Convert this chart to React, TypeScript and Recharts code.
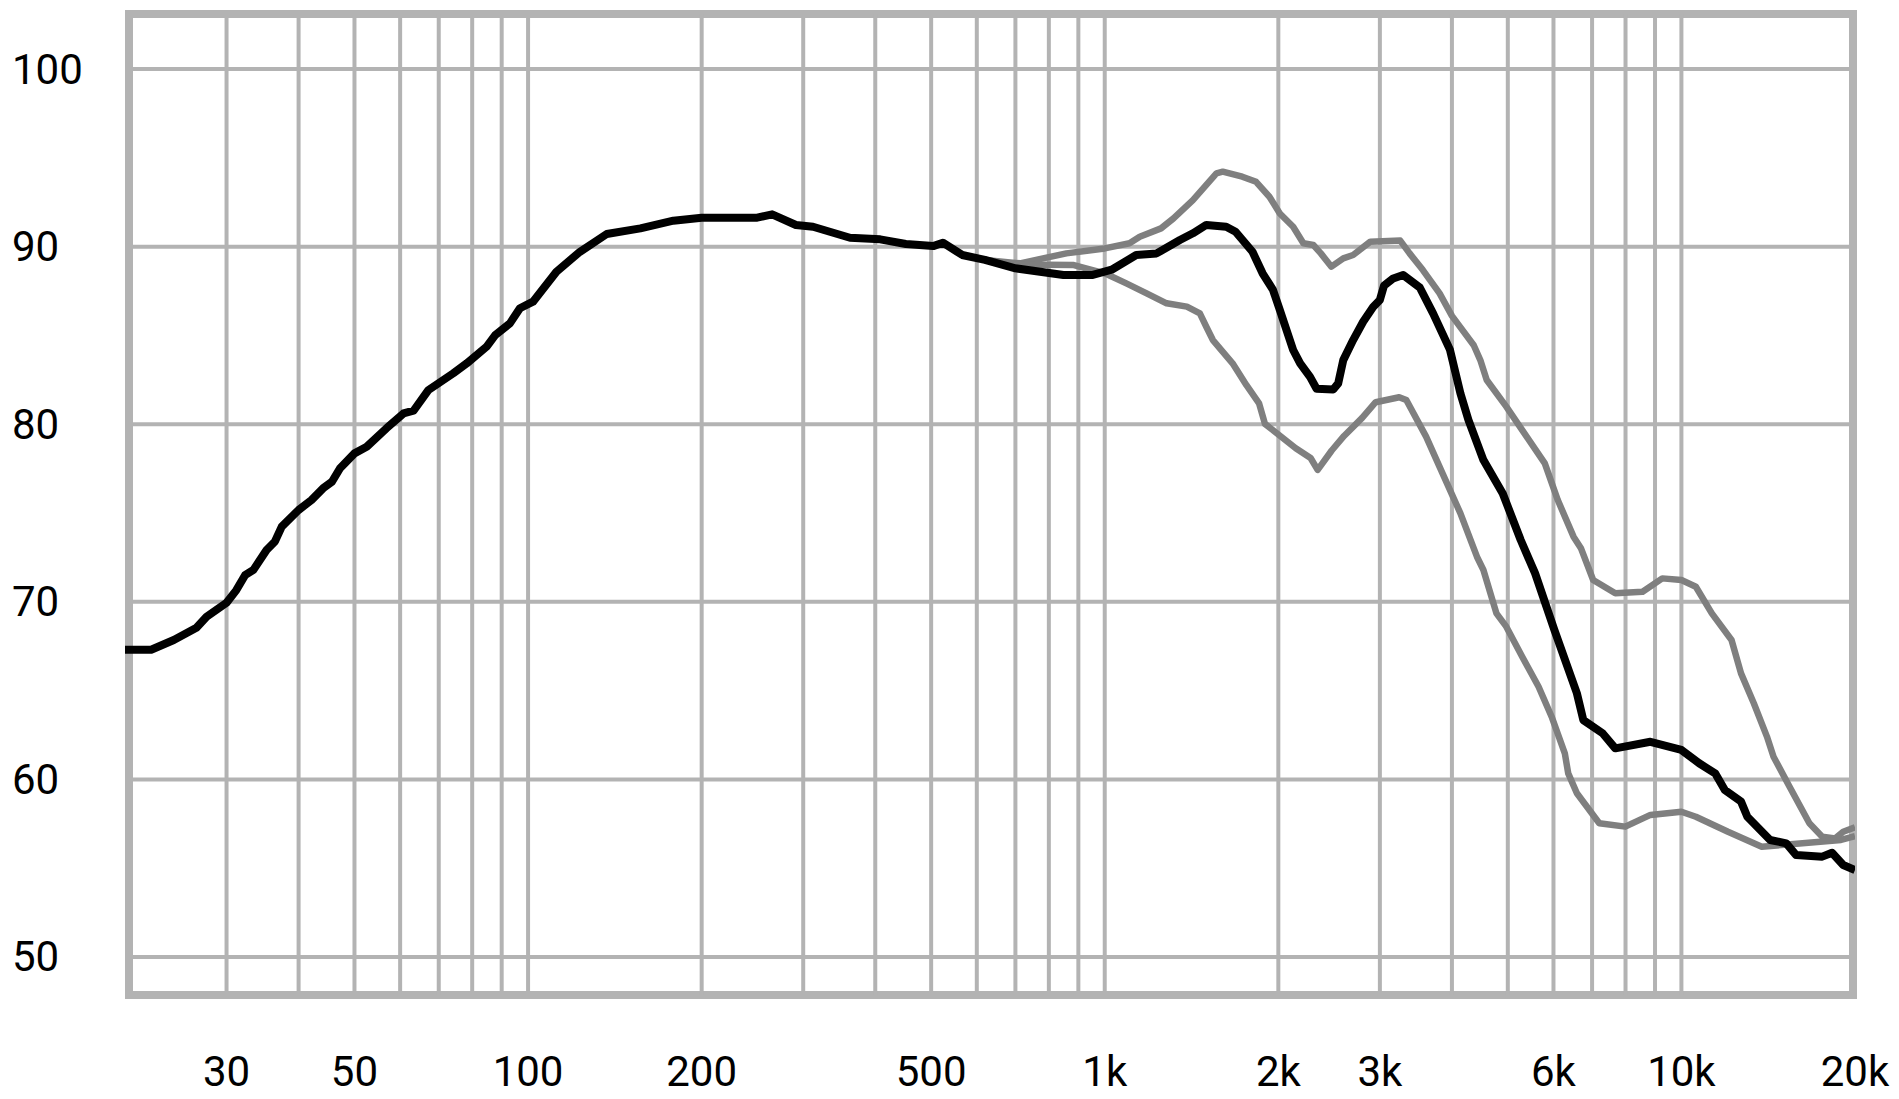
import React from 'react';
import { LineChart, Line, XAxis, YAxis, ReferenceLine, ReferenceArea } from 'recharts';

const xTicks = [30, 50, 100, 200, 500, 1000, 2000, 3000, 6000, 10000, 20000];
const xTickLabels = ['30', '50', '100', '200', '500', '1k', '2k', '3k', '6k', '10k', '20k'];
const yTicks = [50, 60, 70, 80, 90, 100];
const gridFreqs = [
  30, 40, 50, 60, 70, 80, 90,
  100, 200, 300, 400, 500, 600, 700, 800, 900,
  1000, 2000, 3000, 4000, 5000, 6000, 7000, 8000, 9000, 10000,
];

// frequency (Hz), level (dB)
const onAxis: [number, number][] = [
  [20, 67.3], [22.2, 67.3], [24.3, 67.85], [26.6, 68.54], [27.7, 69.16], [30, 69.95],
  [31.2, 70.66], [32.3, 71.5], [33.4, 71.8], [35.2, 72.92], [36.4, 73.4], [37.4, 74.23],
  [40, 75.17], [42.1, 75.73], [44.1, 76.39], [45.7, 76.76], [47.2, 77.52], [50, 78.36],
  [52.5, 78.73], [56.8, 79.77], [60.8, 80.61], [63.3, 80.76], [67.2, 81.93], [74.2, 82.87],
  [78.3, 83.43], [84.7, 84.36], [87.7, 85.02], [93, 85.68], [96.8, 86.53], [102, 86.9],
  [112, 88.59], [123, 89.71], [136.9, 90.71], [156.6, 91.03], [178.6, 91.46], [200, 91.63],
  [249.6, 91.63], [265, 91.82], [291.4, 91.22], [312, 91.12], [361.6, 90.5], [408, 90.41],
  [452, 90.15], [504, 90.03], [524, 90.22], [566, 89.53], [620, 89.25], [700, 88.78],
  [848, 88.4], [950, 88.4], [1028, 88.7], [1134, 89.53], [1230, 89.62], [1350, 90.37],
  [1422, 90.75], [1500, 91.22], [1624, 91.12], [1686, 90.84], [1804, 89.71], [1878, 88.5],
  [1958, 87.56], [2012, 86.43], [2122, 84.18], [2182, 83.43], [2270, 82.67], [2330, 82.0],
  [2490, 81.96], [2540, 82.3], [2592, 83.61], [2696, 84.74], [2806, 85.77], [2920, 86.6],
  [3000, 87.0], [3050, 87.8], [3164, 88.21], [3292, 88.4], [3518, 87.7], [3710, 86.24],
  [3968, 84.2], [4138, 81.74], [4272, 80.24], [4536, 77.98], [4900, 76.1], [5264, 73.48],
  [5576, 71.6], [6022, 68.41], [6588, 64.85], [6760, 63.34], [7300, 62.6], [7680, 61.75],
  [8836, 62.12], [10000, 61.66], [10734, 60.91], [11442, 60.34], [11892, 59.4], [12688, 58.75],
  [13012, 57.9], [14250, 56.59], [15200, 56.4], [15812, 55.74], [17548, 55.65], [18246, 55.87],
  [19080, 55.18], [20000, 54.9],
];

const offAxisUpper: [number, number][] = [
  [620, 89.25], [713, 89.06], [858, 89.62], [1000, 89.9], [1104, 90.19], [1150, 90.56],
  [1252, 91.03], [1316, 91.59], [1422, 92.62], [1562, 94.13], [1602, 94.22], [1732, 93.94],
  [1830, 93.65], [1930, 92.81], [2012, 91.87], [2122, 91.12], [2210, 90.19], [2300, 90.09],
  [2370, 89.62], [2472, 88.87], [2592, 89.34], [2696, 89.53], [2888, 90.28], [3254, 90.34],
  [3378, 89.62], [3562, 88.68], [3808, 87.37], [4000, 86.1], [4364, 84.45], [4480, 83.61],
  [4596, 82.49], [4970, 80.99], [5296, 79.67], [5796, 77.8], [6104, 75.73], [6500, 73.67],
  [6700, 73.0], [7030, 71.23], [7680, 70.48], [8564, 70.57], [9264, 71.32], [10000, 71.23],
  [10594, 70.85], [11292, 69.35], [12216, 67.85], [12688, 65.97], [13352, 64.29], [14070, 62.41],
  [14446, 61.28], [15402, 59.59], [16670, 57.53], [17548, 56.77], [18488, 56.68], [19080, 57.05],
  [20000, 57.3],
];

const offAxisLower: [number, number][] = [
  [620, 89.25], [700, 89.0], [884, 88.96], [1000, 88.5], [1090, 87.93], [1182, 87.37],
  [1280, 86.81], [1388, 86.62], [1462, 86.24], [1500, 85.49], [1540, 84.74], [1666, 83.43],
  [1761, 82.2], [1852, 81.18], [1896, 80.02], [2144, 78.65], [2275, 78.1], [2340, 77.43],
  [2475, 78.52], [2600, 79.34], [2795, 80.36], [2950, 81.24], [3240, 81.52], [3334, 81.36],
  [3608, 79.3], [3808, 77.6], [4138, 74.98], [4420, 72.54], [4536, 71.79], [4778, 69.35],
  [4970, 68.6], [5296, 66.91], [5654, 65.22], [5956, 63.53], [6278, 61.47], [6364, 60.34],
  [6588, 59.22], [7204, 57.53], [7992, 57.34], [8836, 58.0], [10000, 58.18], [10594, 57.9],
  [12044, 57.05], [13782, 56.21], [15656, 56.36], [18912, 56.59], [20000, 56.8],
];

const toPoints = (pts: [number, number][]) => pts.map(([f, db]) => ({ f, db }));

const GRID = '#b3b3b3';
const FONT = 'Roboto, "Noto Sans", sans-serif';

const XTick = (props: any) => {
  const { x, y, payload } = props;
  const i = xTicks.indexOf(payload.value);
  return (
    <text x={x} y={y + 76} textAnchor="middle" dominantBaseline="central"
      fontSize={42} fontFamily={FONT} fill="#000">
      {xTickLabels[i]}
    </text>
  );
};

const YTick = (props: any) => {
  const { x, y, payload } = props;
  return (
    <text x={x - 113} y={y} textAnchor="start" dominantBaseline="central"
      fontSize={42} fontFamily={FONT} fill="#000">
      {payload.value}
    </text>
  );
};

const Frame = (props: any) => (
  <rect x={props.x + 4} y={props.y} width={props.width - 6} height={props.height}
    fill="none" stroke={GRID} strokeWidth={8} />
);

export default function App() {
  return (
    <div style={{ position: 'absolute', left: 0, top: 0, width: 1890, height: 1099 }}>
      <LineChart width={1890} height={1099} margin={{ top: 14, right: 35, bottom: 0, left: 25 }}>
        <XAxis dataKey="f" type="number" scale="log" domain={[20, 20000]} allowDataOverflow
          ticks={xTicks} interval={0} tick={<XTick />} tickSize={0} tickMargin={0}
          axisLine={false} tickLine={false} height={104} />
        <YAxis type="number" domain={[47.86, 103.1]} allowDataOverflow ticks={yTicks}
          interval={0} tick={<YTick />} tickSize={0} tickMargin={0}
          axisLine={false} tickLine={false} width={100} />
        {gridFreqs.map((f) => (
          <ReferenceLine key={'v' + f} x={f} stroke={GRID} strokeWidth={4} />
        ))}
        {yTicks.map((v) => (
          <ReferenceLine key={'h' + v} y={v} stroke={GRID} strokeWidth={4} />
        ))}
        <Line data={toPoints(offAxisUpper)} dataKey="db" type="linear" stroke="#7f7f7f"
          strokeWidth={6.5} dot={false} isAnimationActive={false} strokeLinejoin="round" />
        <Line data={toPoints(offAxisLower)} dataKey="db" type="linear" stroke="#7f7f7f"
          strokeWidth={6.5} dot={false} isAnimationActive={false} strokeLinejoin="round" />
        <Line data={toPoints(onAxis)} dataKey="db" type="linear" stroke="#000"
          strokeWidth={8} dot={false} isAnimationActive={false} strokeLinejoin="round" />
        <ReferenceArea x1={20} x2={20000} y1={47.86} y2={103.1} ifOverflow="visible"
          shape={<Frame />} />
      </LineChart>
    </div>
  );
}
